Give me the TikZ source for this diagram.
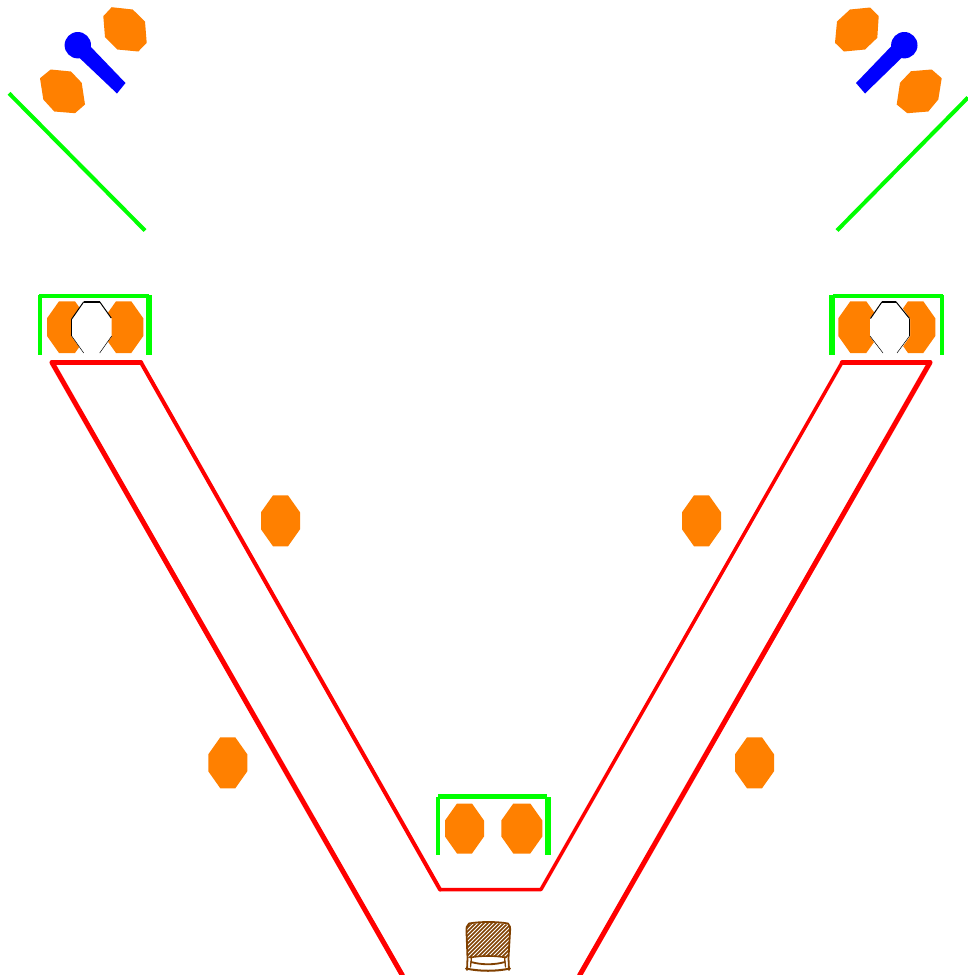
\documentclass[tikz,border=0pt]{standalone}
\definecolor{orng}{RGB}{255,128,0}
\definecolor{grn}{RGB}{0,255,0}
\definecolor{rd}{RGB}{255,0,0}
\definecolor{blu}{RGB}{0,0,255}
\definecolor{brwn}{RGB}{128,64,0}
\tikzset{
  x=1pt,y=-1pt,
  octa/.style={fill=orng,draw=none},
  wall/.style={draw=grn,line cap=butt},
  band/.style={draw=rd,line cap=round,line join=round},
  wood/.style={draw=brwn,line cap=round,line join=round},
}
\newcommand{\octpath}[4]{(#1+12,#2) -- (#1+#3-12,#2) -- (#1+#3,#2+17) -- (#1+#3,#2+#4-17) -- (#1+#3-12,#2+#4) -- (#1+12,#2+#4) -- (#1,#2+#4-17) -- (#1,#2+17) -- cycle}
\begin{document}
\begin{tikzpicture}
\useasboundingbox (0,0) rectangle (968,975);
\fill[white] (0,0) rectangle (968,975);
% top-left group
\fill[octa] (111.7,7.2) -- (132.7,9.5) -- (145,21.5) -- (146.7,42.8) -- (138.3,51.5) -- (117.3,49.5) -- (105,37.2) -- (103.3,16.2) -- cycle;
\fill[octa] (50.7,69.5) -- (71,71.5) -- (81.7,82.8) -- (85,104.5) -- (75,113.2) -- (54.3,111.5) -- (43.3,99.5) -- (40,78.2) -- cycle;
\fill[blu] (89.5,45.5) -- (125.5,83) -- (117,93.5) -- (78,56.5) -- cycle;
\fill[blu] (77.8,45.2) circle (13.2);
\draw[wall,line width=4] (9,93.3) -- (145,230.5);
% top-right group
\fill[octa] (850,9.5) -- (870,7.5) -- (878.7,16.2) -- (877.3,37.8) -- (865,49.5) -- (844,51.5) -- (835,42.8) -- (837,21.5) -- cycle;
\fill[octa] (911,71.2) -- (931.7,69.5) -- (941.7,78.2) -- (938.3,99.5) -- (928.3,111.5) -- (907.3,113.2) -- (896.7,104.5) -- (900,82.8) -- cycle;
\fill[blu] (892,45.5) -- (856,83) -- (865,93.5) -- (903,56.5) -- cycle;
\fill[blu] (904.3,45.2) circle (13.2);
\draw[wall,line width=4] (968,97.5) -- (837,230.5);
% left post
\fill[octa] \octpath{47}{301.3}{40}{51.7};
\fill[octa] \octpath{104}{301.3}{39.3}{51.7};
\fill[white] \octpath{71.7}{301.8}{40}{51.5};
\draw[black,line width=1.4] (71.7,336) -- (71.7,319) (83.7,301.8) -- (99.7,301.8);
\draw[black,line width=1] (71.7,319) -- (83.7,301.8) (99.7,301.8) -- (111.2,318);
\draw[black,line width=0.5] (71.7,336) -- (83.7,353);
\draw[black,line width=0.5] (111.7,336) -- (99.7,353);
\draw[wall,line width=4] (40,295) -- (40,354.7);
\draw[wall,line width=5.5] (149,295) -- (149,354.7);
\draw[wall,line width=3.8] (39,296) -- (149,296);
% right post
\fill[octa] \octpath{838.3}{301.3}{40}{51.7};
\fill[octa] \octpath{896}{301.3}{39.3}{51.7};
\fill[white] \octpath{870}{301.8}{40}{51.5};
\draw[black,line width=1] (870.5,318.5) -- (882,301.8) (896,301.8) -- (909.5,318.5);
\draw[black,line width=1.4] (882,301.8) -- (896,301.8) (909.5,318.5) -- (909.5,336);
\draw[black,line width=0.5] (909.5,336) -- (897,353);
\draw[black,line width=0.5] (870,336) -- (883,353);
\draw[wall,line width=5.5] (832,295) -- (832,354.7);
\draw[wall,line width=4] (942,295) -- (942,354.7);
\draw[wall,line width=3.8] (833,296) -- (943,296);
% red band
\draw[band,line width=5] (52,362.5) -- (402.5,975.5);
\draw[band,line width=4.4] (52,362.5) -- (141,362.5);
\draw[band,line width=4] (141,362.5) -- (440,889.5);
\draw[band,line width=3.5] (440,889.5) -- (541,889.5) -- (842,362.5);
\draw[band,line width=4.4] (842,362.5) -- (930,362.5);
\draw[band,line width=5] (930,362.5) -- (579.5,975.5);
% single bollards
\fill[octa] \octpath{261}{495.3}{39}{51};
\fill[octa] \octpath{682}{495.3}{39}{51};
\fill[octa] \octpath{208.3}{737.3}{39}{51};
\fill[octa] \octpath{735}{737.3}{39}{51};
% bottom post
\fill[octa] \octpath{445}{803.5}{39}{50};
\fill[octa] \octpath{501.3}{803.5}{41}{50};
\draw[wall,line width=4] (438,797) -- (438,854.7);
\draw[wall,line width=5.5] (548,797) -- (548,854.7);
\draw[wall,line width=4.5] (438,796.5) -- (547,796.5);
% chair
\begin{scope}
\clip (467,925) .. controls (480,922) and (497,922) .. (509,925) -- (510,930) -- (508,958) .. controls (495,955) and (480,955) .. (468,958) -- (466,930) -- cycle;
\foreach \k in {-45,-41,...,60}{
  \draw[wood,line width=1.6] (455+\k,965) -- (455+\k+45,920);
}
\end{scope}
\draw[wood,line width=1.8] (469,923.5) .. controls (480,921.5) and (497,921.5) .. (508,923.5) .. controls (510,925) and (510.5,928) .. (510,932) -- (508.5,958) -- (509,970);
\draw[wood,line width=1.8] (469,923.5) .. controls (467,925) and (466,928) .. (466.5,932) -- (467.5,958) -- (467,970);
\draw[wood,line width=1.3] (471.5,957) -- (470.5,967) (504.5,957) -- (505.5,967);
\draw[wood,line width=1.6] (470,957.5) .. controls (482,955.5) and (494,955.5) .. (506,957.5);
\draw[wood,line width=1.8] (471,962) .. controls (482,965) and (494,965) .. (505,962);
\draw[wood,line width=2] (466,968.5) .. controls (480,971.5) and (496,971.5) .. (510,968.5);
\end{tikzpicture}
\end{document}
